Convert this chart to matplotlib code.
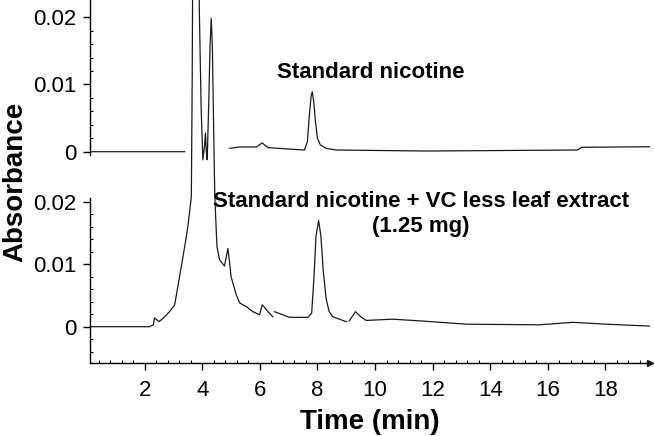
import numpy as np
import matplotlib
matplotlib.use('Agg')
import matplotlib.pyplot as plt
from matplotlib.ticker import FixedLocator

# chromatogram (time in min, absorbance)
# lower trace: standard nicotine + VC less leaf extract (1.25 mg)
t_mix = [0.1, 1.0, 2.0, 2.17, 2.3, 2.34, 2.5, 2.7, 2.86, 3.04, 3.21, 3.33, 3.5, 3.62,
         3.65, 3.68, 3.85, 3.9, 3.96, 4.02, 4.08, 4.11, 4.14, 4.17, 4.22, 4.27, 4.31,
         4.35, 4.40, 4.43, 4.46, 4.51, 4.6, 4.77, 4.89, 4.95, 5.0, 5.18, 5.3, 5.53,
         5.76, 5.99, 6.08, 6.18, 6.28, 6.45, 6.48, 6.51, 7.03, 7.67, 7.8, 7.88, 7.95,
         8.04, 8.12, 8.2, 8.3, 8.4, 8.53, 9.0, 9.05, 9.1, 9.32, 9.5, 9.69, 10.62,
         11.66, 13.17, 15.7, 16.87, 18.03, 19.53]
a_mix = [0.0, 0.0, 0.0, 0.0, 0.0003, 0.0014, 0.0008, 0.0016, 0.0024, 0.0035, 0.008,
         0.0112, 0.016, 0.0208, 0.04, 0.07, 0.07, 0.05, 0.035, 0.0267, 0.029, 0.031,
         0.028, 0.0267, 0.035, 0.045, 0.0493, 0.045, 0.03, 0.022, 0.018, 0.0128,
         0.0107, 0.0097, 0.0125, 0.0102, 0.008, 0.0051, 0.0038, 0.0032, 0.0024,
         0.0019, 0.0035, 0.003, 0.0024, 0.0016, np.nan, 0.0024, 0.0015, 0.0015,
         0.0022, 0.008, 0.0145, 0.017, 0.0145, 0.009, 0.0045, 0.0025, 0.0016,
         0.0008, np.nan, 0.0009, 0.0024, 0.0016, 0.001, 0.0012, 0.0009, 0.0004,
         0.0003, 0.0007, 0.0004, 0.0001]

# upper trace: standard nicotine
t_std = [0.13, 1.5, 3.0, 3.39, np.nan, 4.95, 5.3, 5.88, 6.08, 6.28, 7.0, 7.55, 7.65,
         7.72, 7.78, 7.82, 7.87, 7.93, 8.0, 8.1, 8.3, 8.65, 11.78, 17.04, 17.16, 19.53]
a_std = [0.0, 0.0, 0.0, 0.0, np.nan, 0.0005, 0.0007, 0.0007, 0.0013, 0.0006, 0.0004,
         0.00025, 0.0015, 0.0055, 0.0083, 0.0089, 0.0075, 0.0045, 0.002, 0.001,
         0.0005, 0.00025, 0.0001, 0.00025, 0.00065, 0.00074]

x_ticks = [2, 4, 6, 8, 10, 12, 14, 16, 18]
y_ticks = [0, 0.01, 0.02]
y_labels = ['0', '0.01', '0.02']

plt.rcParams['font.family'] = ['Liberation Sans', 'DejaVu Sans']

fig = plt.figure(figsize=(6.54, 4.36), dpi=100)
pos = [90/654, 73/436, 560/654, 363/436]
ax = fig.add_axes(pos)
ax2 = fig.add_axes(pos)
ax2.patch.set_visible(False)

line_kw = dict(color='#1a1a1a', lw=0.9)
ax.plot(t_mix, a_mix, **line_kw)
ax2.plot(t_std, a_std, **line_kw)

xlim = (0.1, 19.55)
ax.set_xlim(xlim)
ax2.set_xlim(xlim)
ax.set_ylim(-0.00581, 0.05227)
ax2.set_ylim(-0.03144, 0.02257)

for a in (ax, ax2):
    a.spines['top'].set_visible(False)
    a.spines['right'].set_visible(False)
    a.spines['left'].set_linewidth(1.0)
    a.set_yticks(y_ticks)
    a.set_yticklabels(y_labels)
    a.tick_params(axis='both', which='major', direction='out', length=5,
                  width=1.0, labelsize=16, pad=5)
    a.tick_params(axis='x', which='major', pad=7)
    a.tick_params(axis='both', which='minor', direction='in', length=2.5, width=0.8)

ax.spines['left'].set_bounds(-0.00581, 0.0206)
ax.yaxis.set_minor_locator(FixedLocator([-0.004, -0.002, 0.002, 0.004, 0.006, 0.008,
                                         0.012, 0.014, 0.016, 0.018]))
ax.set_xticks(x_ticks)
ax.xaxis.set_minor_locator(FixedLocator(np.arange(0.4, 19.6, 0.4)))
ax.spines['bottom'].set_linewidth(1.0)
ax.plot([1], [0], marker='>', color='#1a1a1a', markersize=4,
        transform=ax.transAxes, clip_on=False)

ax2.spines['bottom'].set_visible(False)
ax2.spines['left'].set_bounds(-0.0005, 0.02257)
ax2.yaxis.set_minor_locator(FixedLocator([0.002, 0.004, 0.006, 0.008, 0.012, 0.014,
                                          0.016, 0.018]))
ax2.set_xticks([])

ax.set_xlabel('Time (min)', fontsize=20, fontweight='bold', labelpad=6)
fig.text(15/654, 1 - 182/436, 'Absorbance', rotation=90, fontsize=20,
         fontweight='bold', ha='center', va='center')

ax2.text(9.84, 0.0118, 'Standard nicotine', fontsize=16, fontweight='bold',
         ha='center', va='center')
ax.text(11.6, 0.018, 'Standard nicotine + VC less leaf extract\n(1.25 mg)',
        fontsize=16, fontweight='bold', ha='center', va='center',
        linespacing=1.25)

fig.savefig('out.png', dpi=100)
